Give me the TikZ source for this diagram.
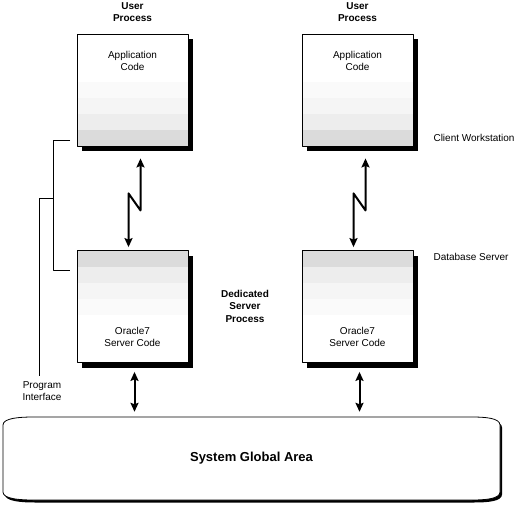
\documentclass[tikz,border=0pt]{standalone}
\usepackage{fontspec}
\setmainfont{Liberation Sans}
\usetikzlibrary{positioning,shadows,arrows.meta}
\tikzset{
  procbox/.style={draw,line width=0.8pt,fill=white,inner sep=0pt,minimum width=111pt,minimum height=112pt,
    drop shadow={shadow xshift=5pt,shadow yshift=-5pt,fill=black,opacity=1}},
  clientbox/.style={procbox,path picture={
      \foreach \i/\c in {0/14,1/7,2/4,3/2}
        \fill[black!\c] ([yshift=\i*16pt]path picture bounding box.south west) rectangle ([yshift=\i*16pt+16pt]path picture bounding box.south east);}},
  serverbox/.style={procbox,path picture={
      \foreach \i/\c in {0/14,1/7,2/4,3/2}
        \fill[black!\c] ([yshift=-\i*16pt]path picture bounding box.north west) rectangle ([yshift=-\i*16pt-16pt]path picture bounding box.north east);}},
  link/.style={line width=2pt,{Stealth[length=9pt,width=8pt,inset=1.5pt]}-{Stealth[length=9pt,width=8pt,inset=1.5pt]}},
  heading/.style={font=\fontsize{10}{12.5}\selectfont\bfseries,align=center},
}
\begin{document}
\begin{tikzpicture}[x=1pt,y=-1pt,>=stealth,line join=round,font=\fontsize{10}{12}\selectfont]
  \useasboundingbox (0,0) rectangle (525,506);
  % process boxes
  \node[clientbox] (app1) at (132.5,90) {};
  \node[clientbox] (app2) at (357.5,90) {};
  \node[serverbox] (srv1) at (132.5,306.5) {};
  \node[serverbox] (srv2) at (357.5,306.5) {};
  \foreach \n in {1,2}{
    \node[below=14pt of app\n.north,align=center] (code\n) {Application\\Code};
    \node[above=13pt of srv\n.south,align=center] (ora\n) {Oracle7\\Server Code};
    \node[heading,above=8pt of app\n.north] (user\n) {User\\Process};
  }
  % system global area
  \draw[line width=0.8pt,fill=white,drop shadow={shadow xshift=2pt,shadow yshift=-2.5pt,fill=black,opacity=1}]
    (3,425) .. controls (3,418) and (20,417) .. (33,417) -- (472,417)
    .. controls (485,417) and (500,418) .. (500,425) -- (500,492)
    .. controls (500,499) and (485,500) .. (472,500) -- (33,500)
    .. controls (20,500) and (3,499) .. (3,492) -- cycle;
  \node[font=\fontsize{13}{15}\selectfont\bfseries,minimum width=497pt,minimum height=83pt] (sga) at (251.5,458.5) {System Global Area};
  % links
  \foreach \p/\q in {app1/srv1,app2/srv2}{
    \draw[link] ([xshift=8pt,yshift=-12pt]\p.south) -- ++(0,52) -- ++(-12,-17) -- ([xshift=-4pt,yshift=3pt]\q.north);
    \path ([xshift=2pt]\q.south) coordinate (\q foot);
    \draw[link,shorten <=9pt,shorten >=5pt] (\q foot) -- (\q foot |- sga.north);
  }
  % labels
  \node[anchor=west] (client) at (430,138) {Client Workstation};
  \node[anchor=west] (dbserver) at (430,257) {Database Server};
  \node[heading] (dedicated) at (245,306) {Dedicated\\Server\\Process};
  \node[align=center] (progif) at (42,391) {Program\\Interface};
  \coordinate (pi) at (39,376);
  \draw[line width=0.8pt] (70,140) -- (53,140) -- (53,270) -- (70,270)
    (53,198) -| (pi);
\end{tikzpicture}
\end{document}
